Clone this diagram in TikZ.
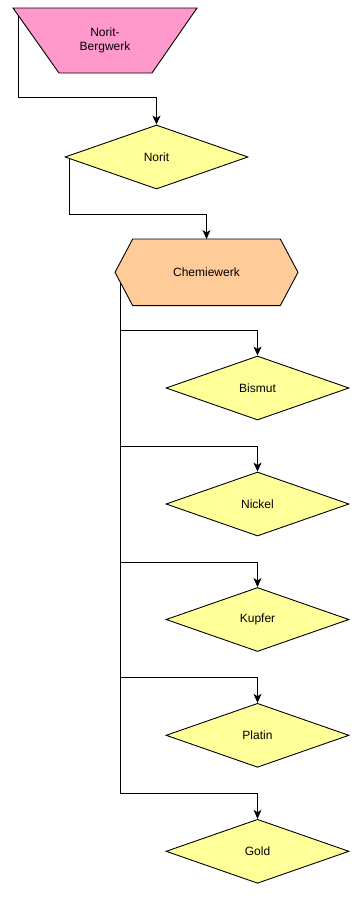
\documentclass[tikz,border=0pt]{standalone}
\usepackage{fontspec}
\setmainfont{Liberation Sans}
\usetikzlibrary{shapes.geometric,arrows.meta,calc}
\definecolor{pinkfill}{HTML}{FF99CC}
\definecolor{yelfill}{HTML}{FFFF99}
\definecolor{orfill}{HTML}{FFCC99}
\begin{document}
\begin{tikzpicture}[x=1pt,y=-1pt,
  shapeline/.style={draw=black,line width=0.9pt,line join=miter},
  dia/.style={diamond,shapeline,fill=yelfill,minimum width=183pt,minimum height=64pt,inner sep=0pt,font=\fontsize{12}{14}\selectfont},
  lbl/.style={font=\fontsize{12}{14}\selectfont,align=center,inner sep=0pt},
  conn/.style={draw=black,line width=0.9pt,-{Stealth[length=9pt,width=8pt,inset=2.5pt]}}]
\useasboundingbox (0,0) rectangle (361,897);
% trapezoid
\filldraw[shapeline,fill=pinkfill] (13,8) -- (197,8) -- (152,73) -- (59,73) -- cycle;
\node[lbl] (berg) at (105,40.5) {Norit-\\Bergwerk};
\coordinate (bergout) at (18,15);
% Norit diamond
\node[dia] (norit) at (156.5,157) {Norit};
\coordinate (noritout) at (69.3,158.5);
% hexagon
\filldraw[shapeline,fill=orfill] (115,272.3) -- (132.7,239) -- (280.3,239) -- (298,272.3) -- (280.3,305.6) -- (132.7,305.6) -- cycle;
\node[lbl] (chem) at (206.5,272.3) {Chemiewerk};
\coordinate (chemtop) at (206.5,239);
\coordinate (chemout) at (120.7,282.6);
% product diamonds
\node[dia] (bismut) at (257.5,388) {Bismut};
\node[dia] (nickel) at (257.5,504) {Nickel};
\node[dia] (kupfer) at (257.5,619.5) {Kupfer};
\node[dia] (platin) at (257.5,735.3) {Platin};
\node[dia] (gold) at (257.5,851.3) {Gold};
% connectors
\draw[conn] (bergout) |- ($(norit.north)+(0,-27)$) -- (norit.north);
\draw[conn] (noritout) |- ($(chemtop)+(0,-25)$) -- (chemtop);
\foreach \d in {bismut,nickel,kupfer,platin,gold}{
  \draw[conn] (chemout) |- ($(\d.north)+(0,-25)$) -- (\d.north);
}
\end{tikzpicture}
\end{document}
